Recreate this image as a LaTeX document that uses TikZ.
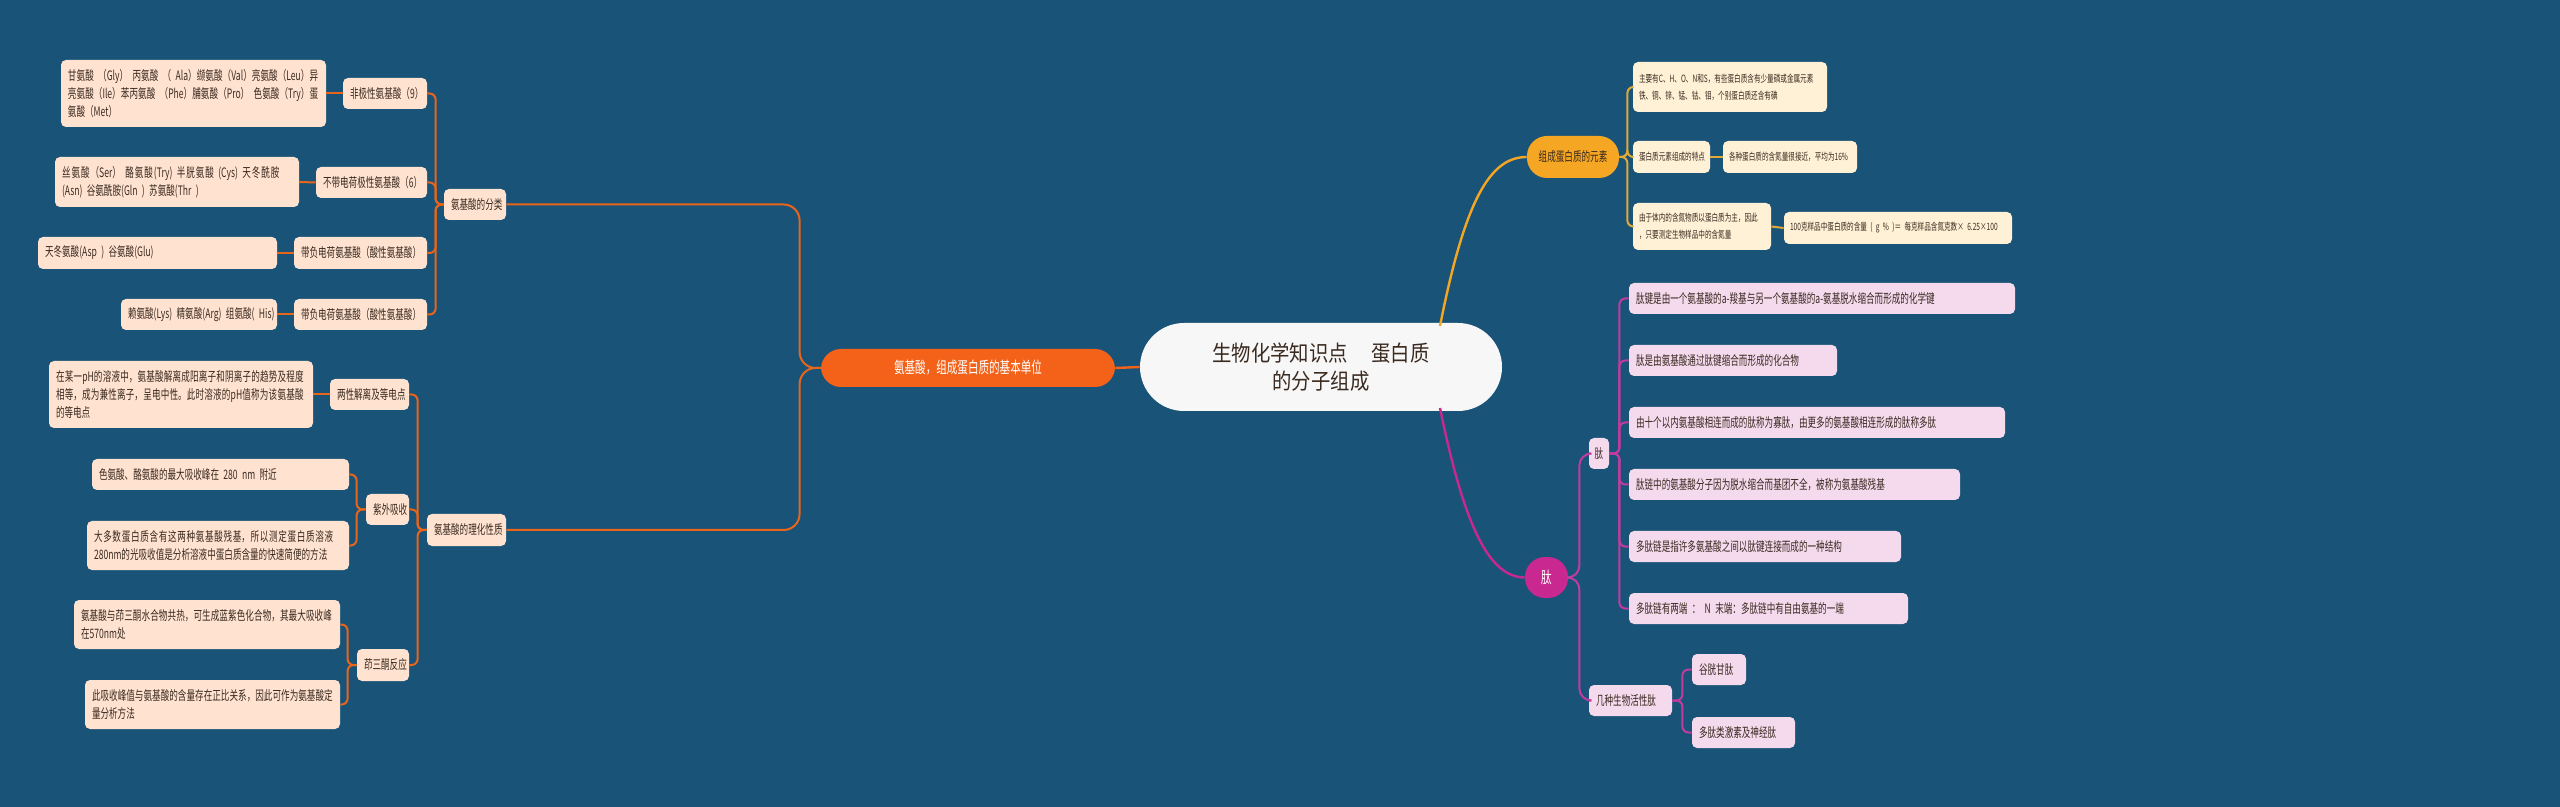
\documentclass[tikz,border=0pt]{standalone}
\usepackage{fontspec}
\setmainfont{Noto Sans CJK SC}[FakeStretch=0.66]
\newfontfamily\cfont{Noto Sans CJK SC}[FakeStretch=0.88]
\XeTeXlinebreaklocale "zh"
\XeTeXlinebreakskip=0pt plus 1pt
\hbadness=10000 \hfuzz=100pt
\definecolor{bg}{HTML}{1A5378}
\definecolor{lfill}{HTML}{FFE3D0}
\definecolor{lline}{HTML}{E8651A}
\definecolor{mainl}{HTML}{F4621A}
\definecolor{rfill}{HTML}{FFF1D6}
\definecolor{rline}{HTML}{E0A93A}
\definecolor{mainr}{HTML}{F5A623}
\definecolor{pfill}{HTML}{F5DAEE}
\definecolor{pline}{HTML}{C23B9E}
\definecolor{mainp}{HTML}{C8288F}
\definecolor{txt}{HTML}{3A2A20}
\begin{document}
\begin{tikzpicture}[x=0.5pt,y=-0.5pt,
  bx/.style={rounded corners=2.5pt,inner xsep=3.5pt,inner ysep=1pt,align=left,text=txt,
    font=\fontsize{6.5}{9}\selectfont,minimum height=15.5pt},
  lb/.style={bx,fill=lfill},
  rb/.style={bx,fill=rfill,font=\fontsize{5}{8.5}\selectfont,inner xsep=3pt},
  pb/.style={bx,fill=pfill},
  ll/.style={draw=lline,line width=1pt,rounded corners=3pt},
  rl/.style={draw=rline,line width=1pt,rounded corners=3pt},
  pl/.style={draw=pline,line width=1pt,rounded corners=3pt},
  mn/.style={rounded corners=10pt,align=center,font=\fontsize{8}{10}\selectfont}]
\fill[bg] (0,0) rectangle (2560,807);
\useasboundingbox (0,0) rectangle (2560,807);
% left
\node[lb,text width=125.5pt,minimum height=33.5pt] (gly) at (193.5,93.5) {甘氨酸 （Gly） 丙氨酸 （ Ala）缬氨酸（Val）亮氨酸（Leu）异亮氨酸（Ile）苯丙氨酸 （Phe）脯氨酸（Pro） 色氨酸（Try）蛋氨酸（Met）};
\node[lb,text width=35pt] (fj) at (385,93.5) {\mbox{非极性氨基酸（9）}};
\node[lb,text width=115pt,minimum height=25pt] (sie) at (177,182) {丝氨酸（Ser） 酪氨酸(Try) 半胱氨酸 (Cys) 天冬酰胺 (Asn) 谷氨酰胺(Gln ) 苏氨酸(Thr )};
\node[lb,text width=48.5pt] (bd) at (371.5,182.5) {\mbox{不带电荷极性氨基酸（6）}};
\node[lb,text width=112.5pt,minimum height=16pt] (tian) at (157.5,253) {\mbox{天冬氨酸(Asp ) 谷氨酸(Glu)}};
\node[lb,text width=59.5pt,minimum height=16pt] (df1) at (360.5,253) {\mbox{带负电荷氨基酸（酸性氨基酸）}};
\node[lb,text width=71pt] (lai) at (199,314.5) {\mbox{赖氨酸(Lys) 精氨酸(Arg) 组氨酸( His)}};
\node[lb,text width=59.5pt] (df2) at (360.5,314.5) {\mbox{带负电荷氨基酸（酸性氨基酸）}};
\node[lb,text width=24pt] (fl) at (475,204.5) {\mbox{氨基酸的分类}};
\node[lb,text width=125pt,minimum height=33.5pt] (zai) at (181,394.5) {在某一pH的溶液中，氨基酸解离成阳离子和阴离子的趋势及程度相等，成为兼性离子，呈电中性。此时溶液的pH值称为该氨基酸的等电点};
\node[lb,text width=32.5pt] (lx) at (369.5,394.5) {\mbox{两性解离及等电点}};
\node[lb,text width=121.5pt] (se) at (220.5,474.5) {\mbox{色氨酸、酪氨酸的最大吸收峰在 280 nm 附近}};
\node[lb,text width=124pt,minimum height=24.5pt] (dd) at (218,545.5) {大多数蛋白质含有这两种氨基酸残基，所以测定蛋白质溶液280nm的光吸收值是分析溶液中蛋白质含量的快速简便的方法};
\node[lb,text width=14.5pt] (zw) at (387.5,509.5) {\mbox{紫外吸收}};
\node[lb,text width=126pt,minimum height=24.5pt] (aj) at (207,624.5) {氨基酸与茚三酮水合物共热，可生成蓝紫色化合物，其最大吸收峰在570nm处};
\node[lb,text width=120.5pt,minimum height=24.5pt] (cx) at (212.5,704.5) {此吸收峰值与氨基酸的含量存在正比关系，因此可作为氨基酸定量分析方法};
\node[lb,text width=19pt,minimum height=16pt] (ys) at (383,665) {\mbox{茚三酮反应}};
\node[lb,text width=32.5pt,minimum height=16pt] (lh) at (466.5,530) {\mbox{氨基酸的理化性质}};
\node[mn,fill=mainl,text=white,minimum width=147pt,minimum height=19pt] (ml) at (968,368) {氨基酸，组成蛋白质的基本单位};
% center
\node[rounded corners=22pt,fill=white!94!gray,minimum width=181pt,minimum height=44pt,align=center,text=txt,font=\cfont\fontsize{11}{14}\selectfont] (c) at (1321,367) {生物化学知识点　 蛋白质\\的分子组成};
% right 1
\node[mn,fill=mainr,text=txt,minimum width=46pt,minimum height=21pt,font=\fontsize{6.5}{9}\selectfont] (r1) at (1573,157) {组成蛋白质的元素};
\node[rb,text width=91pt,minimum height=25pt] (zy) at (1730,87) {\mbox{主要有C、H、O、N和S，有些蛋白质含有少量磷或金属元素}\\\mbox{铁、铜、锌、锰、钴、钼，个别蛋白质还含有碘}};
\node[rb,text width=32.5pt,minimum height=16pt] (td) at (1671.5,157) {\mbox{蛋白质元素组成的特点}};
\node[rb,text width=61pt,minimum height=16pt] (gz) at (1790,157) {\mbox{各种蛋白质的含氮量很接近，平均为16\%}};
\node[rb,text width=63pt,minimum height=23.5pt] (yu) at (1702,226.5) {\mbox{由于体内的含氮物质以蛋白质为主，因此}\\\mbox{，只要测定生物样品中的含氮量}};
\node[rb,text width=108pt,minimum height=16pt] (bk) at (1898,228) {\mbox{100克样品中蛋白质的含量 ( g \% )＝ 每克样品含氮克数× 6.25×100}};
% right 2
\node[mn,fill=mainp,text=white,minimum width=21.5pt,minimum height=20.5pt,rounded corners=10pt] (r2) at (1546.5,577.5) {肽};
\node[pb,minimum width=10pt,inner xsep=2pt] (t1) at (1599,453.5) {肽};
\node[pb,text width=34.5pt] (jz) at (1630.5,700.5) {\mbox{几种生物活性肽}};
\node[pb,text width=186pt] (p1) at (1822,298.5) {\mbox{肽键是由一个氨基酸的a-羧基与另一个氨基酸的a-氨基脱水缩合而形成的化学键}};
\node[pb,text width=97pt] (p2) at (1733,360.5) {\mbox{肽是由氨基酸通过肽键缩合而形成的化合物}};
\node[pb,text width=181pt] (p3) at (1817,422.5) {\mbox{由十个以内氨基酸相连而成的肽称为寡肽，由更多的氨基酸相连形成的肽称多肽}};
\node[pb,text width=158.5pt] (p4) at (1794.5,484.5) {\mbox{肽链中的氨基酸分子因为脱水缩合而基团不全，被称为氨基酸残基}};
\node[pb,text width=129pt] (p5) at (1765,546.5) {\mbox{多肽链是指许多氨基酸之间以肽键连接而成的一种结构}};
\node[pb,text width=132.5pt] (p6) at (1768.5,608.5) {\mbox{多肽链有两端 ： N 末端：多肽链中有自由氨基的一端}};
\node[pb,text width=20pt] (gg) at (1719,669.5) {\mbox{谷胱甘肽}};
\node[pb,text width=44.5pt] (dt) at (1743.5,732.5) {\mbox{多肽类激素及神经肽}};
% connectors left
\foreach \ch in {fj,bd,df1,df2} \draw[ll] (fl.west) -- ++(-8,0) |- (\ch.east);
\draw[ll] (fj.west) -- (gly.east);
\draw[ll] (bd.west) -- (sie.east);
\draw[ll] (df1.west) -- (tian.east);
\draw[ll] (df2.west) -- (lai.east);
\foreach \ch in {lx,zw,ys} \draw[ll] (lh.west) -- ++(-9,0) |- (\ch.east);
\draw[ll] (lx.west) -- (zai.east);
\foreach \ch in {se,dd} \draw[ll] (zw.west) -- ++(-9,0) |- (\ch.east);
\foreach \ch in {aj,cx} \draw[ll] (ys.west) -- ++(-9,0) |- (\ch.east);
\foreach \ch in {fl,lh} \draw[ll,rounded corners=8pt] (ml.west) -- ++(-21,0) |- (\ch.east);
\draw[draw=mainl,line width=1.2pt] (c.west) -- (ml.east);
% right
\draw[draw=mainr,line width=1.2pt] (1440,326) .. controls (1465,200) and (1490,157) .. (r1.west);
\draw[draw=mainp,line width=1.2pt] (1440,408) .. controls (1465,530) and (1490,577) .. (r2.west);
\foreach \ch in {zy,td,yu} \draw[rl] (r1.east) -- ++(8,0) |- (\ch.west);
\draw[rl] (td.east) -- (gz.west);
\draw[rl] (yu.east) -- (bk.west);
\foreach \ch in {t1,jz} \draw[pl,rounded corners=6pt] (r2.east) -- ++(11,0) |- (\ch.west);
\foreach \ch in {p1,p2,p3,p4,p5,p6} \draw[pl] (t1.east) -- ++(10,0) |- (\ch.west);
\foreach \ch in {gg,dt} \draw[pl] (jz.east) -- ++(10,0) |- (\ch.west);
\end{tikzpicture}
\end{document}
